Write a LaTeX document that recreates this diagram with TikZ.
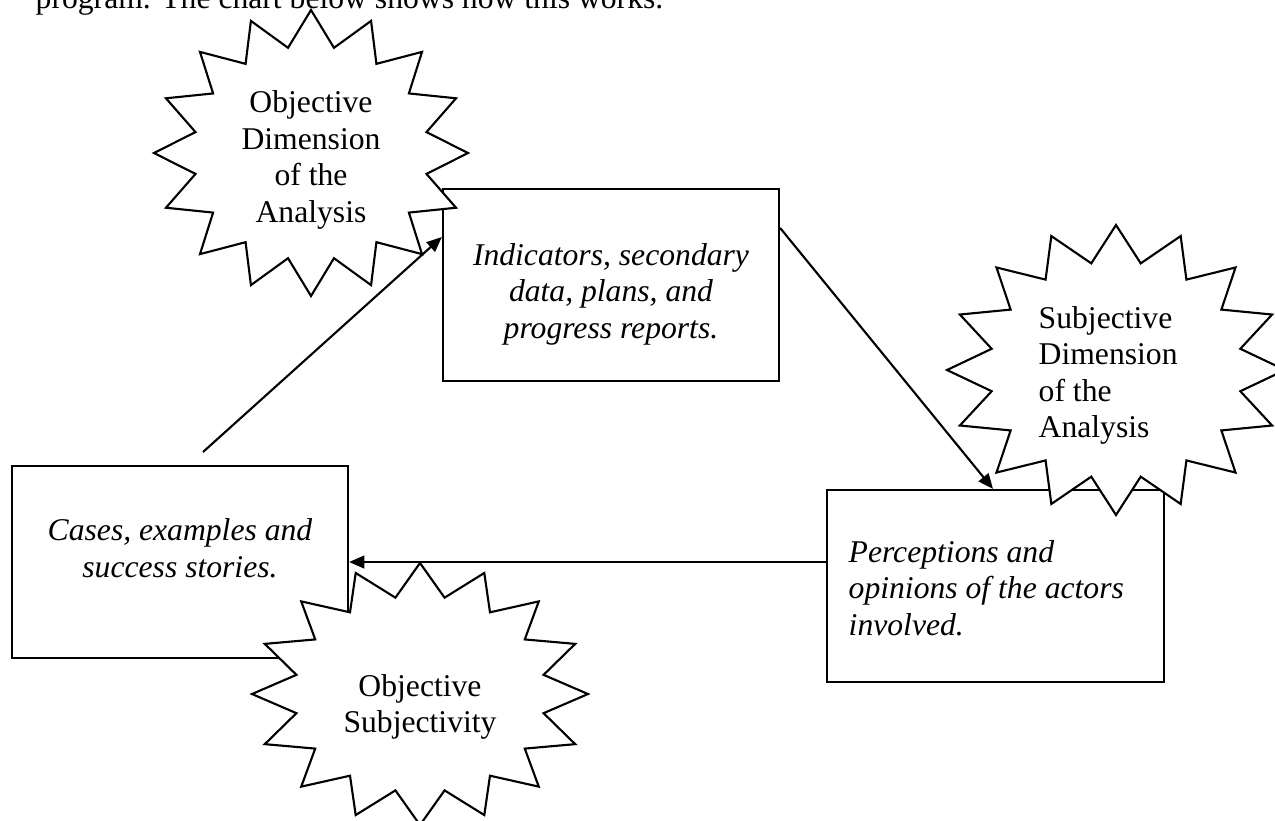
\documentclass[tikz,border=0pt]{standalone}
\usepackage{fontspec}
\setmainfont{Liberation Serif}
\usetikzlibrary{arrows.meta}
\tikzset{
  box/.style={draw, line width=0.6pt, minimum width=3.36cm, minimum height=1.92cm, inner sep=0pt},
  burst/.style={draw, fill=white, line width=0.6pt, line join=miter},
  lbl/.style={inner sep=0pt, font=\fontsize{9}{10.4}\selectfont},
  itl/.style={inner sep=0pt, font=\fontsize{9}{10.4}\selectfont\itshape},
  arr/.style={line width=0.6pt, -{Triangle[length=4.3pt,width=3.6pt]}},
}
\newcommand\burstshape[4]{\draw[burst, shift={(#1,#2)}] plot[samples at={0,...,31}] ({90+11.25*\x}:{#3*(0.875+0.125*cos(180*\x))} and {#4*(0.875+0.125*cos(180*\x))}) -- cycle;}
\begin{document}
\begin{tikzpicture}[x=0.01cm, y=-0.01cm]
\useasboundingbox (0,0) rectangle (1275,820);
\clip (0,0) rectangle (1275,820);
\node[box] (ind) at (611,285) {};
\node[box] (cases) at (180,562) {};
\node[box, minimum width=3.37cm] (per) at (995.5,586) {};
\node[itl, align=center] (indT) at (611,294) {Indicators, secondary\\data, plans, and\\progress reports.};
\node[itl, align=center] (casesT) at (180,548) {Cases, examples and\\success stories.};
\node[itl, align=left, anchor=west] (perT) at (848,588) {Perceptions and\\opinions of the actors\\involved.};
\burstshape{311}{153}{157}{143}
\burstshape{1116}{370}{169}{145}
\burstshape{420}{694}{168}{131}
\node[lbl, anchor=base west] (intro) at (35,8) {program. The chart below shows how this works.};
\node[lbl, align=center] (s1T) at (311,160) {Objective\\Dimension\\of the\\Analysis};
\node[lbl, align=left, anchor=west] (s2T) at (1038,375.5) {Subjective\\Dimension\\of the\\Analysis};
\node[lbl, align=center] (s3T) at (420,707) {Objective\\Subjectivity};
\coordinate (a1s) at (203,452);
\draw[arr] (a1s) -- ([yshift=0.48cm]ind.west);
\draw[arr] ([yshift=0.57cm]ind.east) -- ([xshift=-0.025cm]per.north);
\draw[arr] (per.west |- cases.east) -- (cases.east);
\end{tikzpicture}
\end{document}
